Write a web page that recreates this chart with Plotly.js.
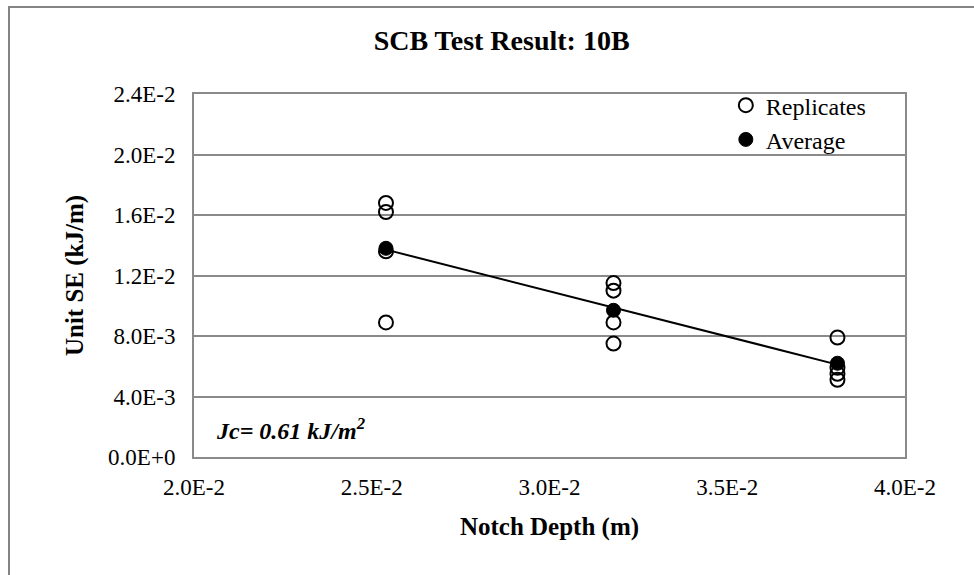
<!DOCTYPE html>
<html>
<head>
<meta charset="utf-8">
<script src="https://cdn.plot.ly/plotly-3.0.1.min.js"></script>
<style>
  html, body { margin: 0; padding: 0; background: #ffffff; }
  #wrap { position: relative; width: 974px; height: 575px; overflow: hidden; }
  #frame { position: absolute; left: 8px; top: 6px; width: 1000px; height: 600px;
           border-left: 2.5px solid #848484; border-top: 2.5px solid #848484; box-sizing: border-box; }
  #chart { position: absolute; left: 0; top: 0; width: 974px; height: 575px; }
</style>
</head>
<body>
<div id="wrap">
  <div id="frame"></div>
  <div id="chart"></div>
</div>
<script>
// Notch depth (m) for replicate specimens
const replicateDepth = [0.0254, 0.0254, 0.0254, 0.0254,
                        0.0318, 0.0318, 0.0318, 0.0318,
                        0.0381, 0.0381, 0.0381, 0.0381];
// Unit strain energy (kJ/m) for replicates
const replicateSE = [0.0168, 0.0162, 0.0136, 0.0089,
                     0.0115, 0.0110, 0.0089, 0.0075,
                     0.0079, 0.0059, 0.0055, 0.0051];
// Averages
const averageDepth = [0.0254, 0.0318, 0.0381];
const averageSE = [0.0138, 0.0097, 0.0062];

const xTickVals = [0.020, 0.025, 0.030, 0.035, 0.040];
const xTickText = ['2.0E-2', '2.5E-2', '3.0E-2', '3.5E-2', '4.0E-2'];
const yTickVals = [0, 0.004, 0.008, 0.012, 0.016, 0.020, 0.024];
const yTickText = ['0.0E+0', '4.0E-3', '8.0E-3', '1.2E-2', '1.6E-2', '2.0E-2', '2.4E-2'];

// least-squares fit through averages (trend line)
const n = averageDepth.length;
const mx = averageDepth.reduce((a, b) => a + b, 0) / n;
const my = averageSE.reduce((a, b) => a + b, 0) / n;
let sxy = 0, sxx = 0;
for (let i = 0; i < n; i++) {
  sxy += (averageDepth[i] - mx) * (averageSE[i] - my);
  sxx += (averageDepth[i] - mx) ** 2;
}
const slope = sxy / sxx;
const intercept = my - slope * mx;
const fitX = [averageDepth[0], averageDepth[n - 1]];
const fitY = fitX.map(x => intercept + slope * x);

const serif = 'Liberation Serif';
const grid = '#8a8a8a';

const traces = [
  {
    x: fitX, y: fitY, type: 'scatter', mode: 'lines',
    line: { color: '#000000', width: 2 },
    showlegend: false, hoverinfo: 'skip'
  },
  {
    x: replicateDepth, y: replicateSE, type: 'scatter', mode: 'markers',
    name: 'Replicates',
    marker: { symbol: 'circle-open', size: 14, color: '#000000', line: { width: 2, color: '#000000' } }
  },
  {
    x: averageDepth, y: averageSE, type: 'scatter', mode: 'markers',
    name: 'Average',
    marker: { symbol: 'circle', size: 14, color: '#000000', line: { width: 1, color: '#000000' } }
  }
];

const layout = {
  width: 974, height: 575,
  margin: { l: 194, r: 69, t: 94, b: 118 },
  paper_bgcolor: 'rgba(0,0,0,0)',
  plot_bgcolor: '#ffffff',
  font: { family: serif, color: '#000000', size: 23 },
  title: {
    text: '<b>SCB Test Result: 10B</b>',
    font: { family: serif, size: 28, color: '#000000' },
    x: 0.515, xanchor: 'center', xref: 'container',
    y: 0.93, yanchor: 'middle', yref: 'container'
  },
  xaxis: {
    range: [0.020, 0.040],
    tickmode: 'array', tickvals: xTickVals, ticktext: xTickText,
    showgrid: false, zeroline: false,
    showline: true, mirror: true, linecolor: grid, linewidth: 2,
    ticks: 'outside', ticklen: 8, tickcolor: 'rgba(0,0,0,0)',
    tickfont: { family: serif, size: 23, color: '#000000' },
    title: { text: '<b>Notch Depth (m)</b>', font: { family: serif, size: 25, color: '#000000' }, standoff: 19 }
  },
  yaxis: {
    range: [0, 0.024],
    tickmode: 'array', tickvals: yTickVals, ticktext: yTickText,
    showgrid: true, gridcolor: grid, gridwidth: 2,
    zeroline: false,
    showline: true, mirror: true, linecolor: grid, linewidth: 2,
    ticks: 'outside', ticklen: 12, tickcolor: 'rgba(0,0,0,0)',
    tickfont: { family: serif, size: 23, color: '#000000' },
    title: { text: '<b>Unit SE (kJ/m)</b>', font: { family: serif, size: 25, color: '#000000' }, standoff: 17 }
  },
  legend: {
    x: 0.748, xanchor: 'left', y: 1.03, yanchor: 'top',
    bgcolor: 'rgba(0,0,0,0)', borderwidth: 0,
    font: { family: serif, size: 24, color: '#000000' },
    itemwidth: 30, tracegroupgap: 0
  },
  annotations: [
    {
      xref: 'paper', yref: 'paper', x: 0.028, y: 0.078, xanchor: 'left', yanchor: 'middle',
      text: '<b><i>Jc= 0.61 kJ/m<sup>2</sup></i></b>', showarrow: false,
      font: { family: serif, size: 24, color: '#000000' }
    }
  ],
  showlegend: true
};

Plotly.newPlot('chart', traces, layout, { displayModeBar: false, staticPlot: true });
</script>
</body>
</html>
